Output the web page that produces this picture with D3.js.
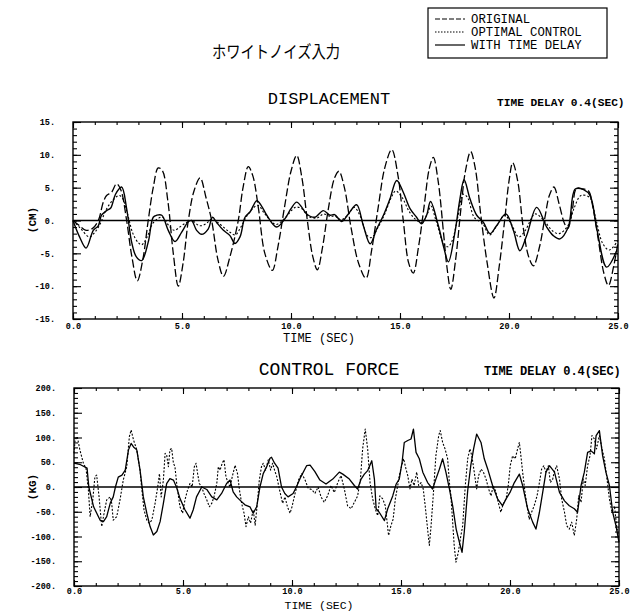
<!DOCTYPE html>
<html><head><meta charset="utf-8">
<script src="https://cdn.jsdelivr.net/npm/d3@7"></script>
<style>body{margin:0;background:#fff}</style>
</head><body><svg id="c" width="636" height="611"></svg>
<script>
const timeTicks=[0,5,10,15,20,25];
const dispTicks=[-15,-10,-5,0,5,10,15];
const forceTicks=[-200,-150,-100,-50,0,50,100,150,200];
const legendLabels=["ORIGINAL","OPTIMAL CONTROL","WITH TIME DELAY"];

const dispOriginal=[[0,0],[0.3,-0.8],[0.6,-1.5],[0.9,-1.2],[1.16,0],[1.39,2.8],[1.54,3.8],[1.77,4.3],[2.0,5.6],[2.2,4.6],[2.46,0],[2.7,-5.5],[2.95,-9.2],[3.2,-6],[3.45,0],[3.68,5],[3.91,8.0],[4.1,7.6],[4.35,3],[4.6,-5],[4.83,-10],[5.05,-6.5],[5.29,0],[5.55,4.5],[5.83,6.5],[6.1,3.5],[6.36,0],[6.65,-6],[6.9,-8.5],[7.2,-5.5],[7.58,0],[7.8,5],[8.04,8.2],[8.25,6.8],[8.5,2],[8.8,-5],[9.14,-7.6],[9.4,-4],[9.7,2],[10.0,7.5],[10.26,9.9],[10.5,6.5],[10.75,0],[11.0,-5.5],[11.21,-7.5],[11.45,-4],[11.7,1.5],[12.0,6.5],[12.2,7.5],[12.45,5],[12.75,-1],[13.1,-6.5],[13.44,-8.8],[13.7,-4.5],[14.0,2],[14.3,8],[14.62,10.8],[14.9,7],[15.15,0],[15.4,-6.5],[15.61,-8.0],[15.85,-4],[16.1,2],[16.35,8],[16.53,9.6],[16.75,6],[17.0,-2],[17.15,-7],[17.33,-10.5],[17.55,-6],[17.8,2],[18.0,7.5],[18.24,10.5],[18.45,8],[18.7,1],[19.0,-6.5],[19.31,-11.8],[19.55,-7],[19.8,0],[20.0,6],[20.17,8.8],[20.4,6],[20.65,-1],[20.9,-5.5],[21.12,-6.9],[21.4,-4],[21.65,0.5],[21.85,3.8],[22.06,5.1],[22.3,2.5],[22.55,-0.5],[22.7,-1.2],[22.9,1.5],[23.1,4.9],[23.4,4.8],[23.65,4.5],[23.85,2],[24.1,-3],[24.35,-8],[24.56,-9.9],[24.8,-7],[25.0,-3.3]];

const dispOptimal=[[0,0],[0.35,-1.2],[0.75,-2.5],[1.0,-1.8],[1.25,-0.5],[1.5,1.5],[1.8,3.0],[2.1,3.8],[2.25,3.5],[2.5,1],[2.75,-2],[3.0,-3.4],[3.15,-3.7],[3.4,-2.5],[3.65,-0.5],[3.9,0.3],[4.1,0.5],[4.4,-0.8],[4.65,-1.5],[4.9,-1.0],[5.2,-0.3],[5.45,0],[5.8,-0.8],[6.1,-0.5],[6.35,0.2],[6.6,-0.2],[6.9,-1],[7.2,-1.8],[7.45,-2.2],[7.7,-1],[8.0,0.8],[8.3,2],[8.5,2.3],[8.8,1],[9.3,-0.6],[9.7,0.3],[10.2,2.0],[10.5,1.8],[10.8,0.6],[11.2,0.4],[11.5,1.0],[11.8,0.6],[12.0,0.7],[12.3,0.1],[12.6,0.8],[12.9,2.0],[13.2,0.5],[13.5,-2.3],[13.7,-2.6],[14.0,-1],[14.3,1],[14.6,3.5],[14.8,4.5],[15.1,3.5],[15.4,1.5],[15.7,0.2],[16.0,-0.3],[16.25,1.0],[16.42,2.2],[16.65,0],[17.0,-3.5],[17.2,-4.0],[17.4,-3],[17.65,0.5],[17.9,4.0],[18.1,3.5],[18.4,0.5],[18.8,-0.5],[19.1,-2.2],[19.4,-1],[19.8,0.8],[20.1,-0.5],[20.45,-2.5],[20.75,-1.5],[21.2,1.0],[21.6,0],[22.0,-1.6],[22.3,-2.0],[22.7,-0.8],[23.0,2],[23.3,3.8],[23.7,3.5],[24.0,0],[24.3,-3.5],[24.6,-4.5],[25.0,-3.0]];

const dispDelay=[[0,0],[0.3,-2.5],[0.6,-4.2],[0.93,-1.5],[1.16,-0.8],[1.31,0.8],[1.54,1.5],[1.73,1.9],[1.95,4.0],[2.23,5.1],[2.46,1.8],[2.69,-3.3],[2.9,-5.5],[3.15,-6.1],[3.45,-3.3],[3.68,0.5],[3.84,0.8],[4.07,0.8],[4.37,-1.5],[4.68,-3.2],[4.98,-1.8],[5.29,-0.2],[5.44,0],[5.67,-1.5],[5.9,-2.1],[6.2,-1.3],[6.4,0.5],[6.59,-0.3],[6.9,-1.5],[7.2,-2.3],[7.43,-3.5],[7.66,-2.5],[7.89,0.5],[8.12,1.3],[8.43,3.0],[8.65,2.2],[8.89,0.8],[9.34,-1.0],[9.72,0.25],[10.0,1.8],[10.26,2.8],[10.5,2.0],[10.72,1.0],[11.1,0.5],[11.48,1.5],[11.79,0.8],[12.0,0.9],[12.33,-0.15],[12.63,1.0],[13.01,2.4],[13.32,-0.8],[13.63,-3.55],[13.93,-1.3],[14.24,0.8],[14.54,3.3],[14.85,6.1],[15.15,4.3],[15.46,1.8],[15.76,0.5],[15.99,-0.5],[16.22,0.8],[16.4,2.9],[16.76,-0.8],[17.0,-4],[17.22,-6.3],[17.52,-1.8],[17.75,3.3],[17.94,6.2],[18.21,3.3],[18.52,0.8],[18.82,-0.25],[19.13,-2.0],[19.43,-0.8],[19.86,1.0],[20.2,-1.5],[20.5,-4.6],[20.81,-2.3],[21.27,2.0],[21.73,-1.0],[22.03,-2.3],[22.34,-2.8],[22.72,-1.0],[23.04,4.8],[23.42,4.7],[23.72,3.8],[24.03,-1.3],[24.48,-7.1],[24.94,-4.6]];

const forceOptimal=[[0,68],[0.05,95],[0.15,102],[0.27,75],[0.43,48],[0.55,38],[0.66,-6],[0.74,-60],[0.86,-26],[0.96,21],[1.04,24],[1.15,-20],[1.27,-80],[1.38,-53],[1.5,-26],[1.66,-20],[1.73,-33],[1.8,-67],[1.96,-60],[2.11,-26],[2.26,14],[2.42,41],[2.54,102],[2.62,115],[2.73,95],[2.88,75],[3.03,34],[3.1,0],[3.21,-46],[3.34,-67],[3.45,-73],[3.57,-67],[3.72,-33],[3.84,0],[3.92,27],[4.0,-20],[4.1,14],[4.18,68],[4.25,65],[4.33,41],[4.4,75],[4.48,78],[4.56,48],[4.63,41],[4.71,7],[4.86,-40],[4.98,-53],[5.09,-26],[5.21,-6],[5.32,7],[5.42,0],[5.52,41],[5.6,48],[5.67,27],[5.75,7],[5.86,0],[5.96,-13],[6.09,-26],[6.21,-40],[6.32,-33],[6.42,-20],[6.55,7],[6.62,41],[6.7,34],[6.8,48],[6.88,55],[6.97,21],[7.08,7],[7.16,0],[7.26,21],[7.39,44],[7.5,27],[7.59,-6],[7.69,-33],[7.8,-53],[7.89,-80],[8.0,-60],[8.1,-73],[8.22,-46],[8.31,-77],[8.41,-33],[8.5,14],[8.6,41],[8.68,48],[8.79,34],[8.91,55],[9.02,34],[9.11,48],[9.2,34],[9.3,21],[9.45,-10],[9.57,-33],[9.68,-20],[9.79,-40],[9.91,-53],[10.0,-40],[10.14,-13],[10.3,14],[10.45,27],[10.6,14],[10.75,-3],[10.9,-5],[11.05,-13],[11.2,0],[11.33,-20],[11.48,-31],[11.63,-18],[11.79,3],[11.94,-11],[12.1,9],[12.25,23],[12.4,-4],[12.55,-38],[12.71,-44],[12.86,-31],[13.01,-18],[13.14,16],[13.24,77],[13.36,117],[13.47,77],[13.58,9],[13.7,-24],[13.82,-44],[13.93,-58],[14.03,-18],[14.16,-24],[14.28,-38],[14.43,-98],[14.54,-78],[14.64,-65],[14.74,-24],[14.85,3],[14.92,23],[15.03,43],[15.12,57],[15.23,36],[15.31,23],[15.41,-4],[15.5,16],[15.6,3],[15.72,30],[15.81,3],[15.92,9],[16.02,-4],[16.11,-38],[16.22,-85],[16.3,-118],[16.38,-78],[16.5,-4],[16.6,63],[16.73,104],[16.8,114],[16.91,90],[17.02,77],[17.14,57],[17.22,9],[17.29,-18],[17.37,-71],[17.44,-118],[17.52,-152],[17.63,-132],[17.72,-105],[17.83,-78],[17.95,3],[18.06,57],[18.16,77],[18.25,63],[18.36,30],[18.47,-4],[18.56,23],[18.67,36],[18.78,30],[18.9,16],[19.02,-4],[19.13,-18],[19.23,3],[19.36,-11],[19.46,-31],[19.58,-51],[19.69,-34],[19.82,-24],[19.92,3],[20.01,43],[20.12,63],[20.24,57],[20.35,77],[20.43,90],[20.5,63],[20.58,30],[20.69,-11],[20.78,-38],[20.88,-65],[20.99,-51],[21.11,-38],[21.24,-18],[21.35,9],[21.45,36],[21.55,43],[21.65,30],[21.76,43],[21.85,9],[21.96,16],[22.03,30],[22.14,43],[22.27,16],[22.37,-24],[22.5,-51],[22.6,-78],[22.72,-85],[22.83,-71],[22.95,-98],[23.06,-65],[23.15,-18],[23.26,-31],[23.36,16],[23.45,3],[23.56,43],[23.67,63],[23.76,104],[23.87,97],[23.97,77],[24.1,104],[24.22,77],[24.33,57],[24.45,16],[24.56,-24],[24.68,-51],[24.79,-38],[24.89,-78],[25.0,-105]];

const forceDelay=[[0,48],[0.3,45],[0.6,38],[0.68,0],[0.9,-40],[1.2,-67],[1.35,-70],[1.5,-60],[1.66,-33],[1.8,-20],[1.9,0],[2.03,20],[2.2,24],[2.35,34],[2.5,75],[2.62,88],[2.73,81],[2.88,75],[3.03,34],[3.18,-20],[3.34,-53],[3.49,-80],[3.64,-97],[3.8,-90],[3.95,-70],[4.1,-33],[4.25,7],[4.4,17],[4.56,14],[4.7,0],[4.86,-23],[5.09,-46],[5.32,-63],[5.47,-46],[5.62,-20],[5.86,0],[6.09,-5],[6.32,-20],[6.55,-26],[6.77,-13],[7.0,7],[7.16,14],[7.3,-10],[7.46,-20],[7.6,-26],[7.84,-36],[8.07,-40],[8.22,-53],[8.38,-40],[8.53,0],[8.68,27],[8.84,41],[8.99,58],[9.06,60],[9.2,48],[9.36,38],[9.52,0],[9.67,-13],[9.82,-20],[10.05,-13],[10.2,0],[10.4,20],[10.67,43],[10.83,44],[11.05,31],[11.28,14],[11.56,6],[11.87,16],[12.17,30],[12.33,26],[12.63,16],[12.86,3],[13.01,-4],[13.17,16],[13.32,26],[13.47,33],[13.66,53],[13.78,16],[13.86,-44],[14.0,-51],[14.24,-68],[14.39,-44],[14.62,-18],[14.78,6],[14.92,16],[15.05,50],[15.15,90],[15.31,94],[15.46,97],[15.57,117],[15.69,70],[15.84,57],[16.0,30],[16.22,9],[16.45,-4],[16.6,16],[16.76,36],[16.91,57],[17.06,30],[17.22,-4],[17.37,-38],[17.53,-85],[17.68,-112],[17.8,-132],[17.9,-92],[18.06,-7],[18.2,43],[18.33,77],[18.47,107],[18.67,90],[18.82,57],[18.98,36],[19.2,3],[19.43,-24],[19.66,-38],[19.82,-24],[20.0,-11],[20.2,9],[20.43,26],[20.58,3],[20.81,-44],[21.04,-71],[21.19,-85],[21.35,-51],[21.5,-11],[21.65,30],[21.81,43],[22.04,30],[22.27,-11],[22.5,-28],[22.72,-38],[22.95,-44],[23.1,-51],[23.26,3],[23.41,30],[23.56,70],[23.72,73],[23.87,67],[23.95,104],[24.1,114],[24.25,63],[24.4,30],[24.56,3],[24.71,-51],[24.86,-78],[25.0,-112]];

const MONO="'Liberation Mono','DejaVu Sans Mono',monospace";
const svg=d3.select("#c");
svg.append("rect").attr("width",636).attr("height",611).attr("fill","#fff");

function txt(x,y,s,size,opts={}){
  return svg.append("text").attr("x",x).attr("y",y).text(s)
    .attr("font-family",opts.family||MONO).attr("font-size",size)
    .attr("font-weight",opts.weight||"normal").attr("text-anchor",opts.anchor||"start").attr("fill","#000");
}

function panel(cfg){
  const x=d3.scaleLinear().domain([0,25]).range([cfg.x0,cfg.x1]);
  const y=d3.scaleLinear().domain(cfg.domain).range([cfg.y1,cfg.y0]);
  const g=svg.append("g");
  const clean=s=>s.select(".domain").remove();
  const minorT=d3.range(0,26,1);
  const minorY=d3.range(cfg.domain[0],cfg.domain[1]+1e-9,cfg.minorStep);
  g.append("g").attr("transform",`translate(0,${cfg.y0})`).call(d3.axisTop(x).tickValues(minorT).tickSize(-3).tickFormat("")).call(clean);
  g.append("g").attr("transform",`translate(0,${cfg.y0})`).call(d3.axisTop(x).tickValues(timeTicks).tickSize(-6).tickFormat("")).call(clean);
  g.append("g").attr("transform",`translate(0,${cfg.y1})`).call(d3.axisBottom(x).tickValues(minorT).tickSize(-3).tickFormat("")).call(clean);
  const xa=g.append("g").attr("transform",`translate(0,${cfg.y1})`).call(d3.axisBottom(x).tickValues(timeTicks).tickSize(-6).tickPadding(cfg.xPad).tickFormat(d=>d.toFixed(1))).call(clean);
  g.append("g").attr("transform",`translate(${cfg.x0},0)`).call(d3.axisLeft(y).tickValues(minorY).tickSize(-4).tickFormat("")).call(clean);
  const ya=g.append("g").attr("transform",`translate(${cfg.x0},0)`).call(d3.axisLeft(y).tickValues(cfg.ticks).tickSize(-8).tickPadding(18).tickFormat(d=>d+".")).call(clean);
  g.append("g").attr("transform",`translate(${cfg.x1},0)`).call(d3.axisRight(y).tickValues(minorY).tickSize(-4).tickFormat("")).call(clean);
  g.append("g").attr("transform",`translate(${cfg.x1},0)`).call(d3.axisRight(y).tickValues(cfg.ticks).tickSize(-8).tickFormat("")).call(clean);
  g.selectAll(".tick line").attr("stroke","#000").attr("stroke-width",1.1);
  [xa,ya].forEach(a=>a.selectAll("text").attr("font-family",MONO).attr("font-size",8.5).attr("font-weight","bold").attr("fill","#000"));
  g.append("rect").attr("x",x(0)).attr("y",y(cfg.domain[1])).attr("width",x(25)-x(0)).attr("height",y(cfg.domain[0])-y(cfg.domain[1]))
    .attr("fill","none").attr("stroke","#000").attr("stroke-width",1.4);
  g.append("line").attr("x1",x(0)).attr("x2",x(25)).attr("y1",y(0)).attr("y2",y(0)).attr("stroke","#000").attr("stroke-width",1.3);
  const line=d3.line().x(d=>x(d[0])).y(d=>y(d[1])).curve(cfg.curve);
  cfg.series.forEach(s=>{
    g.append("path").datum(s.data).attr("d",line).attr("fill","none").attr("stroke","#000")
      .attr("stroke-width",s.w).attr("stroke-dasharray",s.dash||null).attr("stroke-linejoin","round");
  });
}

panel({x0:73,x1:618,y0:122,y1:319,domain:[-15,15],minorStep:1,ticks:dispTicks,xPad:4,
  curve:d3.curveCatmullRom.alpha(0.5),
  series:[{data:dispOriginal,w:1.3,dash:"8,3"},{data:dispOptimal,w:1.1,dash:"2,2"},{data:dispDelay,w:1.4}]});
panel({x0:74,x1:619,y0:388,y1:586,domain:[-200,200],minorStep:10,ticks:forceTicks,xPad:2,
  curve:d3.curveLinear,
  series:[{data:forceOptimal,w:1.1,dash:"2,1.6"},{data:forceDelay,w:1.3}]});

txt(276,58,"ホワイトノイズ入力",17,{family:"'Noto Sans CJK JP'",anchor:"middle"}).attr("textLength",128).attr("lengthAdjust","spacingAndGlyphs");
txt(329,104,"DISPLACEMENT",17,{anchor:"middle"});
txt(497,106,"TIME DELAY 0.4(SEC)",11.2,{weight:"bold"});
txt(329,375,"CONTROL FORCE",18,{anchor:"middle"});
txt(484,375,"TIME DELAY 0.4(SEC)",12,{weight:"bold"});
txt(319,342,"TIME (SEC)",12,{anchor:"middle"});
txt(319,608.5,"TIME (SEC)",11.5,{anchor:"middle"});
txt(0,0,"(CM)",11,{weight:"bold",anchor:"middle"}).attr("transform","translate(36,220) rotate(-90)");
txt(0,0,"(KG)",11,{weight:"bold",anchor:"middle"}).attr("transform","translate(36,487) rotate(-90)");

const lg=svg.append("g");
lg.append("rect").attr("x",428).attr("y",8).attr("width",179).attr("height",50).attr("fill","none").attr("stroke","#000").attr("stroke-width",1.2);
const dashes=["5,2","1.5,1.5",null];
legendLabels.forEach((l,i)=>{
  const yy=19+i*13;
  lg.append("line").attr("x1",435).attr("x2",465).attr("y1",yy).attr("y2",yy).attr("stroke","#000").attr("stroke-width",1.2).attr("stroke-dasharray",dashes[i]);
  lg.append("text").attr("x",471).attr("y",yy+4).text(l).attr("font-family",MONO).attr("font-size",12.3).attr("fill","#000");
});
</script></body></html>
